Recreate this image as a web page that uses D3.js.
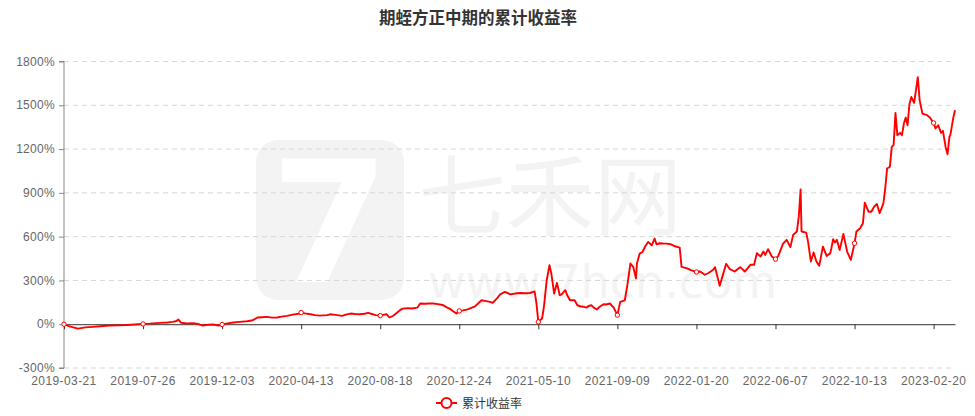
<!DOCTYPE html>
<html><head><meta charset="utf-8">
<script src="https://cdn.jsdelivr.net/npm/d3@7/dist/d3.min.js"></script>
<style>body{margin:0;background:#fff;}svg{display:block;font-family:"Noto Sans CJK SC","Noto Sans",sans-serif;}</style>
</head><body><svg id="c" width="975" height="416"></svg>
<script>
const chartTitle = "期蛭方正中期的累计收益率";
const seriesName = "累计收益率";
const tickLabels = ["2019-03-21","2019-07-26","2019-12-03","2020-04-13","2020-08-18","2020-12-24","2021-05-10","2021-09-09","2022-01-20","2022-06-07","2022-10-13","2023-02-20"];
const tickEvery = 85;          // trading days between x labels
const lastDay = 958;           // index of last trading day
const yTicks = [-300,0,300,600,900,1200,1500,1800];
// trading-day index of each reading
const pointDays = [0,6,15,23,31,39,49,58,68,76,85,92,103,111,117,121,123,126,132,139,144,149,155,160,166,170,176,182,189,197,203,208,213,218,224,229,234,240,246,254,255,259,265,270,275,283,286,292,299,303,308,313,318,323,327,331,335,340,343,347,350,354,358,361,364,370,374,380,383,388,393,397,402,407,412,415,418,422,425,429,433,436,442,445,449,454,458,461,466,469,474,480,485,490,496,501,506,508,510,514,516,519,522,524,527,530,533,535,539,541,544,549,552,555,558,562,564,567,570,573,576,580,583,587,591,595,598,603,606,609,612,615,616,619,622,625,628,632,635,637,641,644,648,652,657,662,664,670,674,680,684,689,693,698,700,705,709,712,716,721,727,732,738,742,745,749,752,754,757,761,765,768,773,777,781,784,788,790,792,793,798,800,803,806,809,812,816,820,824,827,829,831,834,838,842,846,850,852,856,859,861,865,868,871,874,877,881,883,885,888,890,892,894,896,899,901,903,905,907,909,911,914,916,918,920,923,928,931,935,937,940,943,945,948,950,952,953,956,958];
// cumulative return (%) at each reading
const returns = [0,-15,-30,-22,-18,-14,-9,-8,-5,-2,2,4,9,12,16,22,32,10,6,7,2,-9,-4,-2,-9,-2,6,12,16,20,27,46,48,50,45,46,52,57,66,73,80,74,68,62,59,62,68,64,57,66,73,70,68,72,78,70,62,59,64,68,46,58,78,95,107,110,108,114,142,140,142,142,138,132,114,105,91,73,91,95,100,107,123,140,164,158,153,146,180,205,221,205,210,214,212,214,225,142,16,39,119,301,404,347,210,283,199,205,233,200,164,164,130,123,120,114,125,130,112,101,120,137,135,142,114,62,153,164,279,416,393,313,416,484,495,534,564,541,587,548,555,553,552,548,534,525,393,382,370,358,361,339,351,373,391,264,350,414,377,361,391,361,407,407,487,464,498,475,514,464,446,468,550,578,528,612,635,737,924,635,628,566,430,491,430,400,532,468,487,582,560,578,509,619,498,441,555,635,657,692,833,771,771,805,824,760,828,931,1067,1079,1215,1227,1448,1295,1311,1295,1375,1416,1363,1507,1557,1516,1602,1693,1534,1443,1432,1416,1379,1341,1363,1311,1325,1211,1165,1284,1295,1409,1466];

const data = pointDays.map((d,i)=>({d, v: returns[i]}));
const svg = d3.select("#c");
const m = {left:64, right:955, top:61.5, bottom:368};
const x = d3.scaleLinear().domain([0,lastDay]).range([m.left,m.right]);
const y = d3.scaleLinear().domain([-300,1800]).range([m.bottom,m.top]);
const axisFont = "Liberation Sans, Arial, sans-serif";

// watermark
const wm = svg.append("g").attr("fill","#f3f3f3");
wm.append("rect").attr("x",256).attr("y",140).attr("width",148).attr("height",160).attr("rx",22);
wm.append("text").attr("x",330).attr("y",282).attr("text-anchor","middle").attr("font-size",170).attr("font-weight","bold").attr("fill","#fff").attr("font-family","DejaVu Sans").text("7");
wm.append("text").attr("x",418).attr("y",228).attr("font-size",88).text("七禾网");
wm.append("text").attr("x",428).attr("y",298).attr("font-size",46).attr("font-family","DejaVu Sans").text("www.7hcn.com");

// title
svg.append("text").attr("x",478).attr("y",24).attr("text-anchor","middle")
  .attr("font-size",16.5).attr("font-weight","bold").attr("fill","#333").text(chartTitle);

// grid lines
svg.append("g").selectAll("line").data(yTicks.filter(t=>t!==0)).join("line")
  .attr("x1",m.left).attr("x2",m.right).attr("y1",d=>y(d)).attr("y2",d=>y(d))
  .attr("stroke","#d6d6d6").attr("stroke-dasharray","5,4");

// y axis
const yAxis = d3.axisLeft(y).tickValues(yTicks).tickFormat(d=>d+"%").tickSize(5).tickPadding(4);
const ga = svg.append("g").attr("transform",`translate(${m.left},0)`).call(yAxis);
ga.select(".domain").attr("stroke","#888").attr("d",`M-5,${m.top}H0V${m.bottom}H-5`);
ga.selectAll(".tick line").attr("stroke","#888");
ga.selectAll(".tick text").attr("fill","#666").attr("font-size",12).attr("font-family",axisFont)
  .attr("letter-spacing",0.3).attr("dy","0.3em");

// x axis on zero
const xTickVals = tickLabels.map((_,i)=>i*tickEvery);
const xAxis = d3.axisBottom(x).tickValues(xTickVals).tickFormat("").tickSize(5).tickSizeOuter(0);
const gx = svg.append("g").attr("transform",`translate(0,${y(0)})`).call(xAxis);
gx.select(".domain").attr("stroke","#333");
gx.selectAll(".tick line").attr("stroke","#333");
svg.append("g").selectAll("text").data(tickLabels).join("text")
  .attr("x",(d,i)=>x(i*tickEvery)).attr("y",385).attr("text-anchor","middle")
  .attr("fill","#666").attr("font-size",12).attr("font-family",axisFont)
  .attr("letter-spacing",0.4).text(d=>d);

// line
const line = d3.line().x(d=>x(d.d)).y(d=>y(d.v));
svg.append("path").datum(data).attr("d",line).attr("fill","none")
  .attr("stroke","#ff0000").attr("stroke-width",1.9).attr("stroke-linejoin","round");
svg.append("g").selectAll("circle").data(data.filter(d=>d.d % tickEvery===0)).join("circle")
  .attr("cx",d=>x(d.d)).attr("cy",d=>y(d.v)).attr("r",2.2)
  .attr("fill","#fff").attr("stroke","#ff0000").attr("stroke-width",1);

// legend
const lg = svg.append("g");
lg.append("line").attr("x1",436).attr("x2",457).attr("y1",403).attr("y2",403).attr("stroke","#ff0000").attr("stroke-width",2);
lg.append("circle").attr("cx",446.5).attr("cy",403).attr("r",5).attr("fill","#fff").attr("stroke","#ff0000").attr("stroke-width",2);
lg.append("text").attr("x",462).attr("y",407.5).attr("font-size",12).attr("fill","#333").text(seriesName);
</script></body></html>
